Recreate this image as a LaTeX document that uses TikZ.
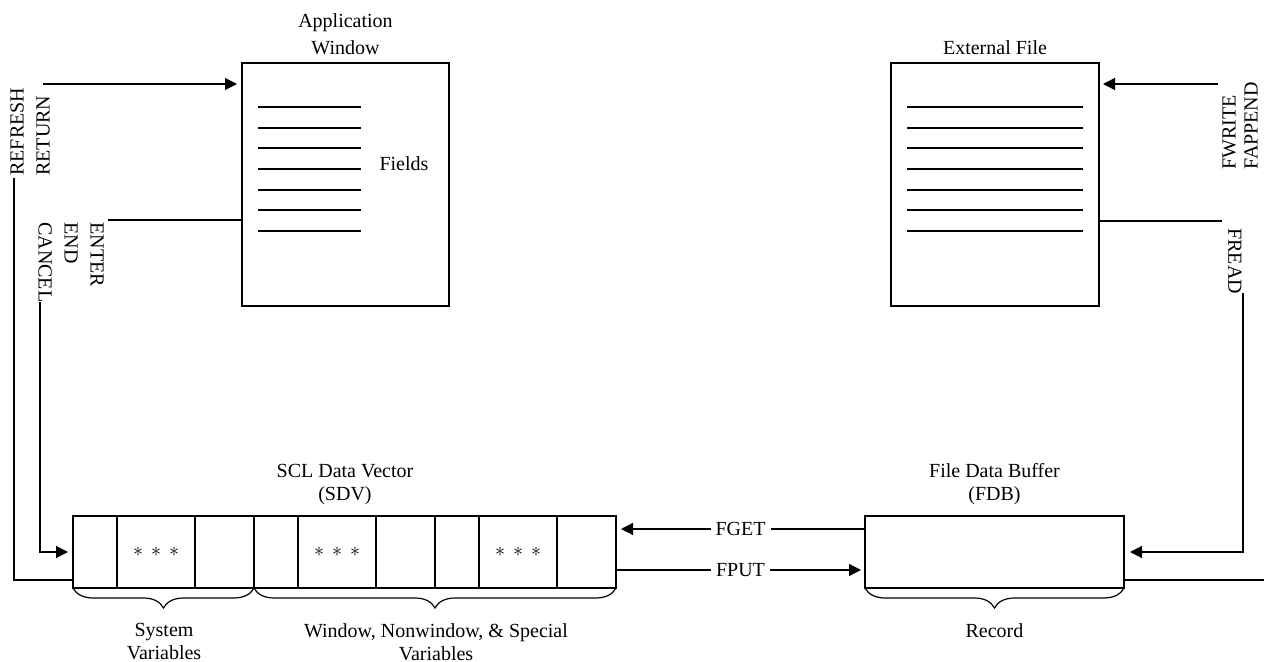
\documentclass[tikz,border=0pt]{standalone}
\usepackage{fontspec}
\setmainfont{Liberation Serif}
\usetikzlibrary{positioning, arrows.meta, decorations.pathreplacing}

\newcommand{\stars}{$\ast$\hspace{4pt}$\ast$\hspace{4pt}$\ast$}

\tikzset{
  box/.style={draw, line width=0.6pt, inner sep=0pt, outer sep=0pt},
  cell/.style={box, minimum height=36pt},
  fieldline/.style={line width=1pt},
  conn/.style={line width=0.6pt},
  arr/.style={conn, -{Triangle[length=6pt, width=6pt]}},
  brc/.style={decorate, decoration={brace, mirror, amplitude=10pt}, line width=0.6pt},
  lbl/.style={inner sep=0pt, align=center},
  oplbl/.style={fill=white, inner xsep=2.5pt, inner ysep=1pt},
}

\begin{document}
\begin{tikzpicture}[x=0.5pt, y=-0.5pt, font=\fontsize{10}{11.5}\selectfont]
  \useasboundingbox (0,0) rectangle (1264,662);

  % window and external file
  \node[box, minimum width=103.5pt, minimum height=121.5pt] (appwin) at (345.5,184.5) {};
  \node[box, minimum width=104pt, minimum height=121.5pt] (extfile) at (995,184.5) {};
  \foreach \i in {0,...,6} {
    \draw[fieldline] (258,{107+20.67*\i}) -- (361,{107+20.67*\i});
    \draw[fieldline] (907,{107+20.67*\i}) -- (1083,{107+20.67*\i});
  }
  \node (fields) at (404,164) {Fields};
  \node[lbl, anchor=south, font=\fontsize{10}{13.5}\selectfont] (apptitle) at (345.5,55) {Application\\Window};
  \node[lbl, anchor=south] (exttitle) at (995,55) {External File};

  % SDV cells
  \node[cell, minimum width=22pt, anchor=west] (c1) at (73,552) {};
  \node[cell, minimum width=39pt, right=0pt of c1] (c2) {\stars};
  \node[cell, minimum width=29.5pt, right=0pt of c2] (c3) {};
  \node[cell, minimum width=22pt, right=0pt of c3] (c4) {};
  \node[cell, minimum width=39pt, right=0pt of c4] (c5) {\stars};
  \node[cell, minimum width=29.5pt, right=0pt of c5] (c6) {};
  \node[cell, minimum width=22pt, right=0pt of c6] (c7) {};
  \node[cell, minimum width=39pt, right=0pt of c7] (c8) {\stars};
  \node[cell, minimum width=29.5pt, right=0pt of c8] (c9) {};
  \node[lbl, anchor=south] (sdvtitle) at (345,505) {SCL Data Vector\\(SDV)};

  % FDB
  \node[box, minimum width=129.5pt, minimum height=36pt] (fdb) at (994.5,552) {};
  \node[lbl, anchor=south] (fdbtitle) at (994.5,505) {File Data Buffer\\(FDB)};

  % braces
  \draw[brc] (c1.south west) -- (c3.south east);
  \draw[brc] (c4.south west) -- (c9.south east);
  \draw[brc] (fdb.south west) -- (fdb.south east);
  \node[lbl, anchor=north] (sysvar) at (164,623) {System\\Variables};
  \node[lbl, anchor=north] (winvar) at (436,623) {Window, Nonwindow, \& Special\\Variables};
  \node[lbl, anchor=north] (rec) at (994.5,623) {Record};

  % rotated labels
  \node[lbl, align=left, rotate=90, anchor=west, font=\fontsize{10}{13}\selectfont] (rflbl) at (30,176) {REFRESH\\RETURN};
  \node[lbl, align=left, rotate=-90, anchor=west, font=\fontsize{10}{13}\selectfont] (enlbl) at (71,222) {ENTER\\END\\CANCEL};
  \node[lbl, align=left, rotate=90, anchor=west, font=\fontsize{10}{11}\selectfont] (fwlbl) at (1240,170) {FWRITE\\FAPPEND};
  \node[lbl, rotate=-90, anchor=west] (frlbl) at (1235,228) {FREAD};

  % left side connectors
  \coordinate (rfend) at (14,178);
  \coordinate (rtend) at (43,84);
  \coordinate (enend) at (108,220);
  \coordinate (cnend) at (40,302);
  \draw[conn] (rfend) |- ([yshift=4pt]c1.south west);
  \draw[arr, shorten >=2.5pt] (rtend) -- (rtend -| appwin.west);
  \draw[conn] (enend -| appwin.west) -- (enend);
  \draw[arr, shorten >=2.5pt] (cnend) |- (c1.west);

  % SDV <-> FDB
  \draw[arr, shorten >=2.5pt] ([yshift=11.5pt]fdb.west) -- ([yshift=11.5pt]c9.east) node[oplbl, midway] {FGET};
  \draw[arr, shorten >=2pt] ([yshift=-9pt]c9.east) -- ([yshift=-9pt]fdb.west) node[oplbl, midway] {FPUT};

  % right side connectors
  \coordinate (fwend) at (1218,84);
  \coordinate (frend) at (1222,221);
  \coordinate (frbot) at (1243,293);
  \coordinate (rgtedge) at (1264,580);
  \draw[arr, shorten >=2pt] (fwend) -- (fwend -| extfile.east);
  \draw[conn] (frend -| extfile.east) -- (frend);
  \draw[arr, shorten >=3pt] (frbot) |- (fdb.east);
  \draw[conn] ([yshift=4pt]fdb.south east) -- (rgtedge);
\end{tikzpicture}
\end{document}
